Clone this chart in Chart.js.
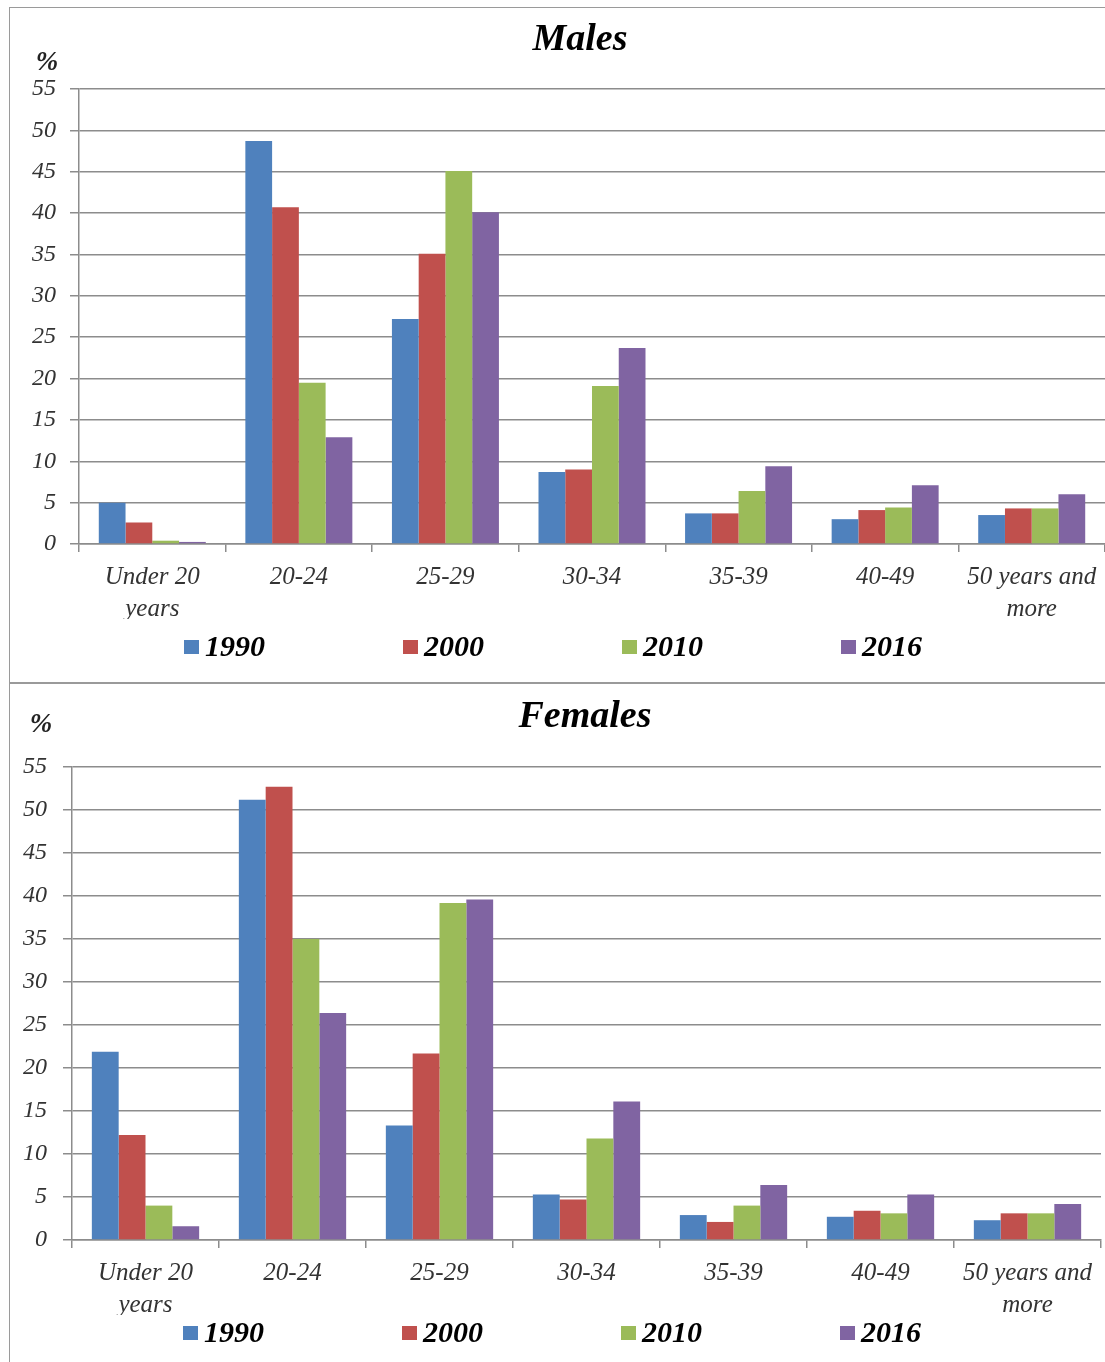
<!DOCTYPE html>
<html>
<head>
<meta charset="utf-8">
<script src="https://cdn.jsdelivr.net/npm/chart.js@4.4.1/dist/chart.umd.min.js"></script>
<style>
  html, body { margin: 0; padding: 0; background: #fff; overflow: hidden; }
  .caja { position: absolute; left: 9px; border: 1px solid #9a9a9a; background: #fff; }
  #caja-hombres { top: 7px; width: 1100px; height: 674px; }
  #caja-mujeres { top: 683px; width: 1100px; height: 690px; }
  canvas { display: block; }
</style>
</head>
<body>
<div class="caja" id="caja-hombres"><canvas id="grafico-hombres" width="1100" height="674"></canvas></div>
<div class="caja" id="caja-mujeres"><canvas id="grafico-mujeres" width="1100" height="678"></canvas></div>

<script>
// -----------------------------------------------------------
// datos (porcentajes por grupo de edad)
// -----------------------------------------------------------
const categorias = [['Under 20', 'years'], '20-24', '25-29', '30-34', '35-39', '40-49', ['50 years and', 'more']];
const anios = ['1990', '2000', '2010', '2016'];

const hombres_1990 = [5.0, 48.7, 27.2, 8.7, 3.7, 3.0, 3.5];
const hombres_2000 = [2.6, 40.7, 35.1, 9.0, 3.7, 4.1, 4.3];
const hombres_2010 = [0.4, 19.5, 45.1, 19.1, 6.4, 4.4, 4.3];
const hombres_2016 = [0.25, 12.9, 40.1, 23.7, 9.4, 7.1, 6.0];

const mujeres_1990 = [21.9, 51.2, 13.3, 5.3, 2.9, 2.7, 2.3];
const mujeres_2000 = [12.2, 52.7, 21.7, 4.7, 2.1, 3.4, 3.1];
const mujeres_2010 = [4.0, 35.0, 39.2, 11.8, 4.0, 3.1, 3.1];
const mujeres_2016 = [1.6, 26.4, 39.6, 16.1, 6.4, 5.3, 4.2];

// eje y: de 0 a 55 de 5 en 5
const eje_y_min = 0;
const eje_y_max = 55;
const eje_y_paso = 5;

const colores = ['#4f81bd', '#c0504d', '#9bbb59', '#8064a2'];
const fuente = '"Liberation Serif", "Times New Roman", serif';
const gris = '#8c8c8c';


// -----------------------------------------------------------
// plugin: dibuja titulo, el "%" y la leyenda a partir de los datasets
// -----------------------------------------------------------
const plugin_rotulos = {
    id: 'rotulos',
    afterDraw(chart, args, op) {
        const ctx = chart.ctx;
        ctx.save();

        // titulo
        ctx.fillStyle = '#000';
        ctx.textAlign = 'center';
        ctx.textBaseline = 'middle';
        ctx.font = 'italic bold 38px ' + fuente;
        ctx.fillText(op.titulo, op.titulo_x, op.titulo_y);

        // "%" arriba del eje y
        ctx.fillStyle = '#222';
        ctx.font = 'italic bold 27px ' + fuente;
        ctx.fillText('%', op.pct_x, op.pct_y);

        // leyenda
        ctx.textAlign = 'left';
        ctx.font = 'italic bold 30px ' + fuente;
        chart.data.datasets.forEach((ds, i) => {
            const x = op.leyenda_x + i * op.leyenda_paso;
            ctx.fillStyle = ds.backgroundColor;
            ctx.fillRect(x, op.leyenda_y - 7, 15, 14);
            ctx.fillStyle = '#000';
            ctx.fillText(ds.label, x + 21, op.leyenda_y + 1);
        });

        ctx.restore();
    }
};


// -----------------------------------------------------------
// funcion: crear_grafico
// -----------------------------------------------------------
function crear_grafico(id, series, rotulos, ancho_y, padding, pad_ticks) {

    const contexto = document.getElementById(id).getContext('2d');

    return new Chart(contexto, {
        type: 'bar',
        data: {
            labels: categorias,
            datasets: series.map((valores, i) => ({
                label: anios[i],
                data: valores,
                backgroundColor: colores[i],
                borderWidth: 0,
                categoryPercentage: 0.73,
                barPercentage: 1.0
            }))
        },
        plugins: [plugin_rotulos],
        options: {
            responsive: false,
            animation: false,
            layout: { padding: padding },
            plugins: {
                legend: { display: false },
                title: { display: false },
                tooltip: { enabled: false },
                rotulos: rotulos
            },
            scales: {
                x: {
                    offset: true,
                    grid: {
                        offset: true,
                        drawOnChartArea: false,
                        drawTicks: true,
                        tickLength: 8,
                        color: gris,
                        lineWidth: 1.5
                    },
                    border: { color: gris, width: 1.5 },
                    ticks: {
                        color: '#333',
                        padding: 9,
                        maxRotation: 0,
                        autoSkip: false,
                        font: { family: fuente, size: 25, style: 'italic', lineHeight: 1.28 }
                    },
                    afterFit(scale) { scale.height = 75; }
                },
                y: {
                    min: eje_y_min,
                    max: eje_y_max,
                    grid: { color: gris, lineWidth: 1.5, tickLength: 9 },
                    border: { color: gris, width: 1.5 },
                    ticks: {
                        stepSize: eje_y_paso,
                        color: '#333',
                        padding: pad_ticks,
                        font: { family: fuente, size: 24, style: 'italic' }
                    },
                    afterFit(scale) { scale.width = ancho_y; }
                }
            }
        }
    });
}

crear_grafico('grafico-hombres',
    [hombres_1990, hombres_2000, hombres_2010, hombres_2016],
    { titulo: 'Males', titulo_x: 570, titulo_y: 32, pct_x: 37, pct_y: 55,
      leyenda_x: 174, leyenda_paso: 219, leyenda_y: 639 },
    69, { top: 81, bottom: 63, left: 0, right: 5 }, 14);

crear_grafico('grafico-mujeres',
    [mujeres_1990, mujeres_2000, mujeres_2010, mujeres_2016],
    { titulo: 'Females', titulo_x: 575, titulo_y: 33, pct_x: 31, pct_y: 41,
      leyenda_x: 173, leyenda_paso: 219, leyenda_y: 649 },
    62, { top: 83, bottom: 47, left: 0, right: 9 }, 16);
</script>
</body>
</html>
